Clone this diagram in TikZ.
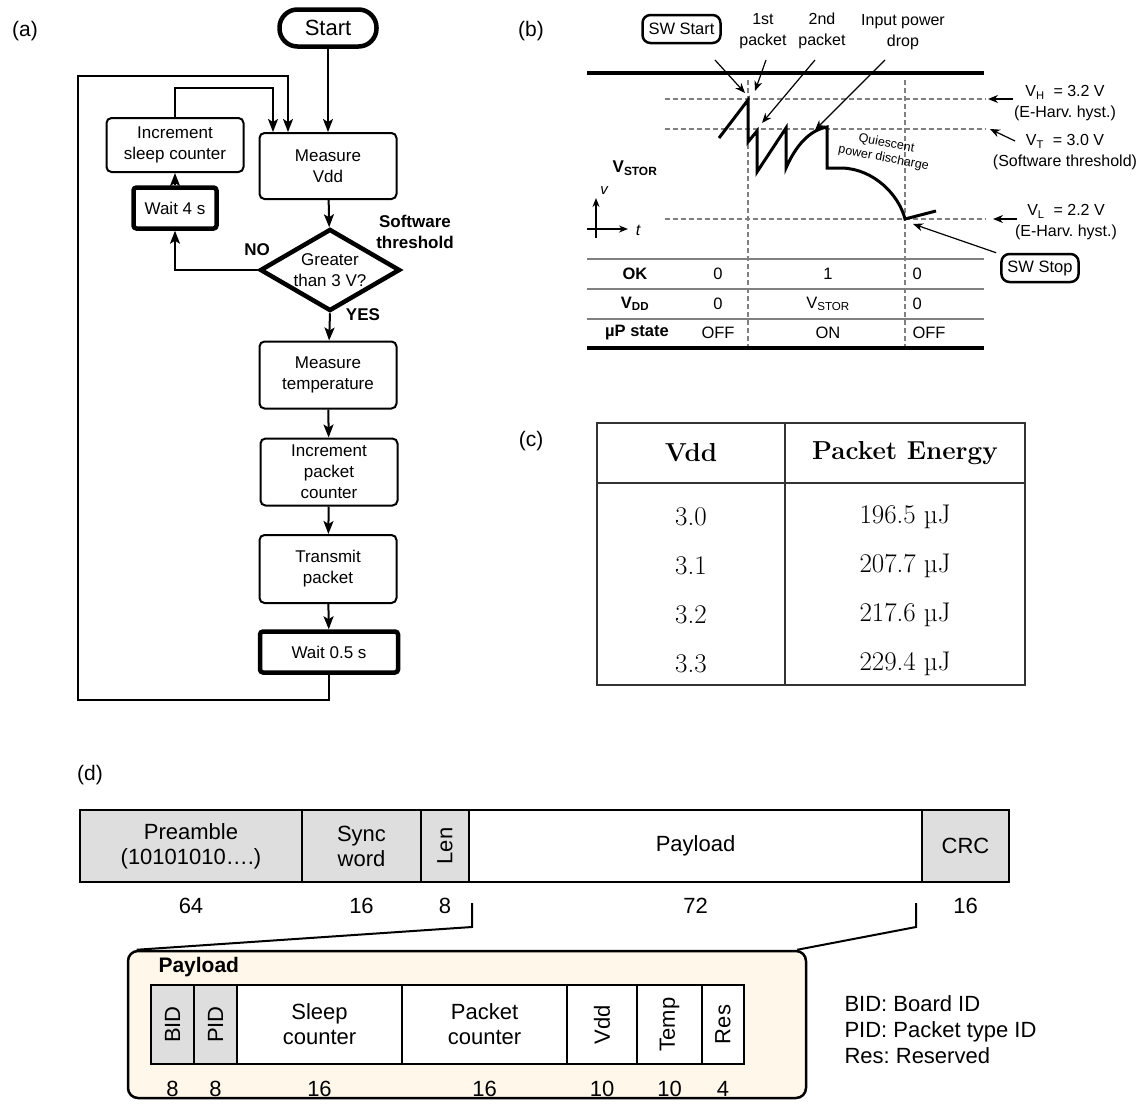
\documentclass[tikz,border=0pt]{standalone}
\usepackage{fontspec}
\setsansfont{Liberation Sans}
\usetikzlibrary{arrows.meta,shapes.geometric}
\definecolor{cellgray}{HTML}{DEDEDE}
\definecolor{cream}{HTML}{FFF8EA}
\newcommand{\fsz}[2]{\fontsize{#1}{#2}\selectfont}
\begin{document}
\frenchspacing
\begin{tikzpicture}[x=1pt,y=-1pt,
  every node/.style={font=\sffamily\fsz{17}{21}},
  flow/.style={draw,rounded corners=5pt,line width=2pt,minimum width=137pt,align=center,inner sep=0pt},
  waitbox/.style={flow,line width=4.5pt,rounded corners=3pt,minimum height=41pt},
  decision/.style={diamond,draw,line width=4.5pt,shape aspect=1.7,inner sep=0pt,minimum width=140pt,minimum height=82pt,align=center},
  arr/.style={line width=2pt,-{Stealth[length=13pt,width=10pt,inset=3pt]}},
  tag/.style={draw,rounded corners=8pt,line width=2.5pt,font=\sffamily\fsz{16.5}{20},minimum height=28pt,inner xsep=6pt},
  ptr/.style={line width=1.2pt,-{Stealth[length=10pt,width=8pt]}},
  guide/.style={gray,line width=1.2pt,dash pattern=on 5pt off 3pt},
  lbl/.style={font=\sffamily\fsz{16}{21},align=center},
  cell/.style={draw,line width=2.5pt,inner sep=0pt,align=center,font=\sffamily\fsz{22}{25}},
  tab/.style={font=\rmfamily\fsz{27}{30}}]
\useasboundingbox[fill=white] (0,0) rectangle (1144,1114);

% panel labels
\node[font=\sffamily\fsz{21}{25}] (la) at (25,31) {(a)};
\node[font=\sffamily\fsz{21}{25}] (lb) at (531,31) {(b)};
\node[font=\sffamily\fsz{21}{25}] (lc) at (531,441) {(c)};
\node[font=\sffamily\fsz{21}{25}] (ld) at (90,775) {(d)};

% (a) flowchart
\node[draw,line width=4.5pt,rounded corners=18pt,minimum width=97pt,minimum height=37pt,font=\sffamily\fsz{22}{26}] (start) at (328,28) {Start};
\node[flow,minimum height=66pt] (mvdd) at (328,166) {Measure\\Vdd};
\node[flow,minimum height=54pt] (incsleep) at (175,145) {Increment\\sleep counter};
\node[waitbox,minimum width=83pt] (wait4) at (175,208) {Wait 4 s};
\node[decision] (dec) at (330,270) {Greater\\than 3 V?};
\node[flow,minimum height=67pt] (mtemp) at (328,375) {Measure\\temperature};
\node[flow,minimum height=67pt] (incpkt) at (329,472) {Increment\\packet\\counter};
\node[flow,minimum height=68pt] (tx) at (328,569) {Transmit\\packet};
\node[waitbox,minimum width=138pt] (wait05) at (329,652) {Wait 0.5 s};
\node[font=\sffamily\bfseries\fsz{17}{21},align=center] (swth) at (415,232) {Software\\threshold};
\node[font=\sffamily\bfseries\fsz{17}{21}] (no) at (257,250) {NO};
\node[font=\sffamily\bfseries\fsz{17}{21}] (yes) at (363,315) {YES};

\draw[arr] (start) -- (mvdd);
\draw[arr] (mvdd) -- (dec);
\draw[arr] (dec.south) -- (mtemp);
\draw[arr] (mtemp) -- (incpkt);
\draw[arr] (incpkt) -- (tx);
\draw[arr] (tx) -- (wait05);
\draw[arr] (dec.west) -| (wait4.south);
\draw[arr] (wait4) -- (incsleep);
\draw[arr] (incsleep.north) -- ++(0,-29) -| ([xshift=-55pt]mvdd.north);
\coordinate (loopbl) at (78,700);
\coordinate (looptl) at (78,76);
\draw[arr] (wait05.south) |- (loopbl) -- (looptl) -| ([xshift=-40pt]mvdd.north);

% (b) storage voltage
\node[tag] (swstart) at (681.5,29) {SW Start};
\node[lbl] (pk1) at (763,31) {1st\\packet};
\node[lbl] (pk2) at (822,31) {2nd\\packet};
\node[lbl] (drop) at (903,32) {Input power\\drop};
\node[tag] (swstop) at (1040,268) {SW Stop};

\draw[line width=3.5pt] (587,73) -- (984,73);
\foreach \x in {748,905} \draw[guide] (\x,80) -- (\x,346);
\foreach \n/\y in {vh/99,vt/129,vl/219} {
  \coordinate (\n a) at (665,\y);
  \coordinate (\n b) at (986,\y);
  \draw[guide] (\n a) -- (\n b);
}
\node[lbl] (vhl) at (1065,103) {V\textsubscript{H}\ \ = 3.2 V\\(E-Harv. hyst.)};
\node[lbl] (vtl) at (1065,152.5) {V\textsubscript{T}\ \ = 3.0 V\\(Software threshold)};
\node[lbl] (vll) at (1066,222.5) {V\textsubscript{L}\ \ = 2.2 V\\(E-Harv. hyst.)};
\coordinate (vhtail) at (1013,99);
\coordinate (vttail) at (1015,141);
\coordinate (vltail) at (1017,219);
\draw[ptr] (vhtail) -- ([xshift=2pt]vhb);
\draw[ptr] (vttail) -- ([xshift=4pt]vtb);
\draw[ptr] (vltail) -- ([xshift=7pt]vlb);

% signal
\coordinate (s0) at (719,138);
\coordinate (peak) at (748,100);
\coordinate (dip1) at (757,131);
\coordinate (pk2top) at (786,128);
\coordinate (flat) at (827,127);
\coordinate (low) at (905,219);
\draw[line width=3pt,line join=miter] (s0) -- (peak) -- (748,142) -- (dip1) -- (757,172) -- (pk2top) -- (786,168)
  .. controls (796,145) and (810,130) .. (flat) -- (827,168) -- (842,168)
  .. controls (874,169) and (899,195) .. (low) -- (936,211);
\node[font=\sffamily\fsz{12.5}{15},rotate=-11,align=center] (quies) at (885,151) {Quiescent\\power discharge};

\foreach \n/\x/\y in {swstart/715/60,pk1/766/60,pk2/815/60,drop/885/60} \coordinate (\n t) at (\x,\y);
\coordinate (tipstart) at (745,93);
\coordinate (tippk1) at (755,91);
\coordinate (tippk2) at (762,123);
\coordinate (tipdrop) at (815,130);
\draw[ptr] (swstartt) -- (tipstart);
\draw[ptr] (pk1t) -- (tippk1);
\draw[ptr] (pk2t) -- (tippk2);
\draw[ptr] (dropt) -- (tipdrop);
\draw[ptr] ([xshift=-4pt]swstop.north west) -- ([xshift=8pt,yshift=-5pt]low);

\node[font=\sffamily\bfseries\fsz{17}{21}] (vstor) at (635,168) {V\textsubscript{STOR}};
\draw[line width=1.5pt,-{Stealth[length=9pt,width=7pt]}] (596,238) -- (596,198);
\draw[line width=1.5pt,-{Stealth[length=9pt,width=7pt]}] (587,229) -- (628,229);
\node[font=\sffamily\itshape\fsz{15}{18}] (vax) at (604,191) {v};
\node[font=\sffamily\itshape\fsz{16}{18}] (tax) at (638,230) {t};

\foreach \y in {259,289,319} \draw[gray,line width=2pt] (587,\y) -- (984,\y);
\draw[line width=3.5pt] (587,348) -- (984,348);
\node[font=\sffamily\bfseries\fsz{16.5}{20}] (rok) at (635,274) {OK};
\node[font=\sffamily\bfseries\fsz{16.5}{20}] (rvdd) at (635,304) {V\textsubscript{DD}};
\node[font=\sffamily\bfseries\fsz{16.5}{20}] (rup) at (637,333) {µP state};
\foreach \n/\y/\a/\b/\c in {ok/274/0/1/0,vdd/304/0/V\textsubscript{STOR}/0,up/333/OFF/ON/OFF} {
  \node[font=\sffamily\fsz{16.5}{20}] (\n1) at (718,\y) {\a};
  \node[font=\sffamily\fsz{16.5}{20}] (\n2) at (828,\y) {\b};
  \node[font=\sffamily\fsz{16.5}{20},anchor=west] (\n3) at (909,\y) {\c};
}

% (c) packet energy table
\draw[line width=1.5pt,black!80] (597,423) rectangle (1025,685);
\draw[line width=1.5pt,black!80] (785,423) -- (785,685);
\draw[line width=1.5pt,black!80] (597,483) -- (1025,483);
\node[tab,font=\rmfamily\bfseries\fsz{26}{30}] (hvdd) at (691,453) {Vdd};
\node[tab,font=\rmfamily\bfseries\fsz{26}{30}] (hpe) at (905,453) {Packet Energy};
\foreach \v/\e/\y in {3.0/196.5/517,3.1/207.7/566,3.2/217.6/615,3.3/229.4/664} {
  \node[tab] (v\v) at (691,\y) {\v};
  \node[tab] (e\v) at (905,\y) {\e\ µJ};
}

% (d) frame format
\foreach \n/\a/\b/\f/\txt in {pre/80/302/cellgray/{Preamble\\(10101010….)},sync/302/421/cellgray/{Sync\\word},len/421/469/cellgray/{\rotatebox{90}{Len}},pay/469/922/white/Payload,crc/922/1009/cellgray/CRC} {
  \pgfmathsetmacro\cx{(\a+\b)/2}
  \pgfmathsetmacro\w{\b-\a}
  \node[cell,fill=\f,minimum width=\w pt,minimum height=72pt] (\n) at (\cx,846) {\txt};
}
\foreach \n/\v in {pre/64,sync/16,len/8,pay/72,crc/16}
  \node[font=\sffamily\fsz{22}{24}] (n\n) at ([yshift=-23pt]\n.south) {\v};

\node[draw,fill=cream,line width=2.5pt,rounded corners=10pt,minimum width=678pt,minimum height=147pt] (pbox) at (467,1024.5) {};
\coordinate (brl) at (472,903);
\coordinate (brr) at (916,903);
\draw[line width=2pt] (brl) -- ++(0,24) -- ([xshift=10pt]pbox.north west);
\draw[line width=2pt] (brr) -- ++(0,24) -- ([xshift=-10pt]pbox.north east);
\node[anchor=west,font=\sffamily\bfseries\fsz{21}{24}] (ptitle) at (155,967) {Payload};
\foreach \n/\a/\b/\f/\txt/\v in {bid/151/194/cellgray/{\rotatebox{90}{BID}}/8,pid/194/237/cellgray/{\rotatebox{90}{PID}}/8,sleep/237/402/white/{Sleep\\counter}/16,pcnt/402/567/white/{Packet\\counter}/16,vdd/567/637/white/{\rotatebox{90}{Vdd}}/10,temp/637/702/white/{\rotatebox{90}{Temp}}/10,res/702/744/white/{\rotatebox{90}{Res}}/4} {
  \pgfmathsetmacro\cx{(\a+\b)/2}
  \pgfmathsetmacro\w{\b-\a}
  \node[cell,fill=\f,minimum width=\w pt,minimum height=79pt] (\n) at (\cx,1024.5) {\txt};
  \node[font=\sffamily\fsz{22}{24}] (n\n) at ([yshift=-24pt]\n.south) {\v};
}
\node[anchor=west,align=left,font=\sffamily\fsz{22}{26}] (legend) at (841,1030) {BID: Board ID\\PID: Packet type ID\\Res: Reserved};
\end{tikzpicture}
\end{document}
